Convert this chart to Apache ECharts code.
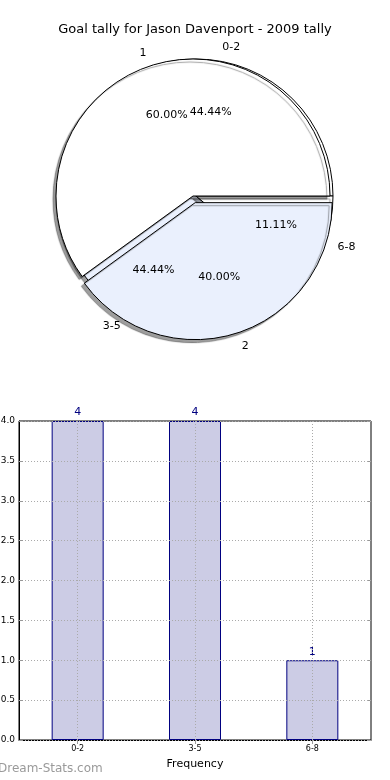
<!DOCTYPE html>
<html><head><meta charset="utf-8">
<script src="https://cdn.jsdelivr.net/npm/echarts@6/dist/echarts.min.js"></script>
<style>html,body{margin:0;padding:0;background:#fff}#c{width:390px;height:780px}</style>
</head><body><div id="c"></div>
<script>
const titleText = 'Goal tally for Jason Davenport - 2009 tally';
const outerNames = ['1', '2'];
const outerValues = [3, 2];
const innerNames = ['0-2', '3-5', '6-8'];
const innerValues = [4, 4, 1];
const barCategories = ['0-2', '3-5', '6-8'];
const barValues = [4, 4, 1];
const yMin = 0, yMax = 4, yStep = 0.5;
const xAxisName = 'Frequency';
const watermark = 'Dream-Stats.com';

const FONT = 'DejaVu Sans';
const CX = 193, CY = 196, R = 137;
const WHITE = '#ffffff', LBLUE = '#eaf0fd';
const outerColors = [WHITE, LBLUE];
const innerColors = [WHITE, LBLUE, WHITE];
const sum = a => a.reduce((s, v) => s + v, 0);
const pct = (v, arr) => (v / sum(arr) * 100).toFixed(2) + '%';

const shadow = {shadowColor: 'rgba(0,0,0,0.38)', shadowBlur: 1, shadowOffsetX: -3, shadowOffsetY: 3};
const nameLabel = {show: true, position: 'outside', formatter: '{b}', fontSize: 11, color: '#000', fontFamily: FONT, distanceToLabelLine: 0};
const nameLine = {show: false, length: R * 0.1, length2: 0};

function pctSeries(names, values, center, z) {
  return {
    type: 'pie', center: center, radius: [0, R * 1.2], startAngle: 0, clockwise: false,
    silent: true, animation: false, avoidLabelOverlap: false, z: z,
    itemStyle: {color: 'rgba(0,0,0,0)', borderWidth: 0},
    label: {show: true, position: 'inside', fontSize: 11, color: '#000', fontFamily: FONT,
      formatter: p => pct(p.value, values)},
    labelLine: {show: false},
    emphasis: {disabled: true},
    data: names.map((n, i) => ({name: n, value: values[i]}))
  };
}

const chart = echarts.init(document.getElementById('c'), null, {renderer: 'canvas'});
chart.setOption({
  animation: false,
  backgroundColor: '#fff',
  title: {text: titleText, left: 'center', top: 23, padding: 0,
    textStyle: {fontSize: 13, fontWeight: 'normal', color: '#000', fontFamily: FONT}},
  graphic: [{type: 'text', left: -2, top: 763, style: {text: watermark, font: '12px "DejaVu Sans"', fill: '#9a9a9a'}}],
  grid: {left: 19, right: 19, top: 421, height: 319, outerBoundsMode: 'none', containLabel: false,
    show: true, borderColor: '#000', borderWidth: 1, backgroundColor: 'rgba(0,0,0,0)'},
  xAxis: [{
    type: 'category', data: barCategories, position: 'bottom',
    axisLine: {lineStyle: {color: '#000'}},
    axisTick: {show: true, inside: true, alignWithLabel: true, length: 4, lineStyle: {color: '#999'}},
    axisLabel: {fontSize: 8, color: '#000', margin: 5, fontFamily: FONT},
    splitLine: {show: false},
    name: xAxisName, nameLocation: 'middle', nameGap: 19,
    nameTextStyle: {fontSize: 11, color: '#000', fontFamily: FONT}
  }, {
    type: 'category', data: barCategories, position: 'top',
    axisLine: {show: false},
    axisTick: {show: true, inside: true, alignWithLabel: true, length: 4, lineStyle: {color: '#999'}},
    axisLabel: {show: false}, splitLine: {show: false}
  }],
  yAxis: [{
    type: 'value', min: yMin, max: yMax, interval: yStep, z: 3,
    axisLine: {show: true, lineStyle: {color: '#000'}},
    axisTick: {show: true, inside: true, length: 4, lineStyle: {color: '#999'}},
    axisLabel: {fontSize: 9, color: '#000', margin: 4, fontFamily: FONT, formatter: v => v.toFixed(1)},
    splitLine: {show: true, lineStyle: {type: [1, 2], color: '#aaa', width: 1}}
  }, {
    type: 'value', min: yMin, max: yMax, interval: yStep, position: 'right',
    axisLine: {show: false},
    axisTick: {show: true, inside: true, length: 4, lineStyle: {color: '#999'}},
    axisLabel: {show: false}, splitLine: {show: false}
  }],
  series: [
    {
      type: 'pie', center: [CX + 3, CY], radius: [0, R], startAngle: 0, clockwise: false,
      silent: true, avoidLabelOverlap: false, z: 2,
      itemStyle: Object.assign({borderColor: '#000', borderWidth: 1}, shadow),
      label: nameLabel, labelLine: nameLine, emphasis: {disabled: true},
      data: innerNames.map((n, i) => ({name: n, value: innerValues[i], itemStyle: {color: innerColors[i]}}))
    },
    {
      type: 'pie', center: [CX, CY], radius: [0, R], startAngle: 0, clockwise: false,
      silent: true, avoidLabelOverlap: false, z: 3,
      selectedMode: 'single', selectedOffset: 7,
      itemStyle: Object.assign({borderColor: '#000', borderWidth: 1}, shadow),
      label: nameLabel, labelLine: nameLine, emphasis: {disabled: true},
      data: outerNames.map((n, i) => ({name: n, value: outerValues[i], selected: i === 1, itemStyle: {color: outerColors[i]}}))
    },
    pctSeries(innerNames, innerValues, [CX + 3, CY], 4),
    pctSeries(outerNames, outerValues, [CX, CY], 4),
    {
      type: 'bar', xAxisIndex: 0, yAxisIndex: 0, data: barValues, barWidth: 52, z: 2,
      itemStyle: {color: '#ccccE5', borderColor: '#000080', borderWidth: 1},
      label: {show: true, position: 'top', color: '#000080', fontSize: 11, distance: 3, fontFamily: FONT},
      markLine: {silent: true, symbol: 'none', label: {show: false},
        lineStyle: {type: [1, 2], color: '#aaa', width: 1},
        data: barCategories.map(c => ({xAxis: c}))}
    }
  ]
});
</script></body></html>
